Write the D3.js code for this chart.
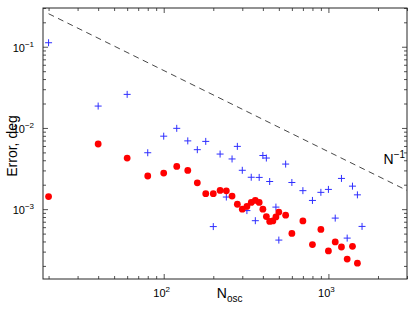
<!DOCTYPE html>
<html>
<head>
<meta charset="utf-8">
<script src="https://cdn.jsdelivr.net/npm/d3@7"></script>
<style>
  html, body { margin: 0; padding: 0; background: #fff; }
  svg { display: block; font-family: "Liberation Sans", Arial, Helvetica, sans-serif; }
</style>
</head>
<body>
<div id="chart"></div>
<script>
/* ---- data ---- */
const redN   = [20, 40, 60, 80, 100, 120, 140, 160, 180, 200, 220, 240, 260, 280, 300, 320, 340, 360,
                380, 400, 420, 440, 460, 480, 500, 550, 600, 700, 800, 900, 1000, 1100, 1200, 1300, 1400, 1500];
const redErr = [1.43e-3, 6.34e-3, 4.26e-3, 2.56e-3, 2.78e-3, 3.36e-3, 3.0e-3, 2.11e-3, 1.55e-3, 1.55e-3,
                1.70e-3, 1.68e-3, 1.45e-3, 1.15e-3, 1.0e-3, 1.08e-3, 1.21e-3, 1.28e-3, 1.21e-3, 1.0e-3,
                8.1e-4, 7.07e-4, 7.17e-4, 8.03e-4, 9.2e-4, 8.43e-4, 5.03e-4, 7.17e-4, 3.66e-4, 5.63e-4,
                3.06e-4, 3.95e-4, 3.42e-4, 2.43e-4, 3.49e-4, 2.16e-4];

const blueN   = [20, 40, 60, 80, 100, 120, 140, 160, 180, 200, 220, 240, 260, 280, 300, 320, 340, 360,
                 380, 400, 420, 440, 480, 500, 550, 600, 700, 800, 900, 1000, 1100, 1200, 1300, 1400, 1500, 1600];
const blueErr = [0.112, 0.0186, 0.0259, 4.95e-3, 7.92e-3, 9.89e-3, 6.93e-3, 5.40e-3, 6.83e-3, 6.10e-4,
                 4.77e-3, 1.41e-3, 4.15e-3, 5.93e-3, 3.01e-3, 9.6e-4, 2.47e-3, 7.21e-4, 2.46e-3, 4.58e-3,
                 4.26e-3, 2.19e-3, 1.06e-3, 4.16e-4, 3.59e-3, 2.13e-3, 1.69e-3, 1.28e-3, 1.61e-3, 1.75e-3,
                 7.76e-4, 2.39e-3, 4.40e-4, 1.92e-3, 1.50e-3, 6.13e-4];

// reference N^-1 line : err = REF_C / N
const REF_C  = 5.1;
const refN   = [20, 3000];

const xDomain = [18.5, 3000];
const yDomain = [1.38e-4, 0.3];
const xMajor  = [100, 1000];
const yMajor  = [1e-3, 1e-2, 1e-1];

/* ---- layout ---- */
const W = 415, H = 309;
const M = { top: 8, right: 8, bottom: 30, left: 43 };
const iw = W - M.left - M.right, ih = H - M.top - M.bottom;

const svg = d3.select('#chart').append('svg')
  .attr('width', W).attr('height', H);
const g = svg.append('g').attr('transform', `translate(${M.left},${M.top})`);

const x = d3.scaleLog().domain(xDomain).range([0, iw]);
const y = d3.scaleLog().domain(yDomain).range([ih, 0]);

const xMinor = x.ticks().filter(v => !xMajor.includes(v));
const yMinor = y.ticks().filter(v => !yMajor.some(m => Math.abs(m - v) / m < 1e-6));

const AX = '#262626';

/* ---- ticks (inward, on all four sides) ---- */
function ticks(axisFn, vals, size, tr) {
  const a = g.append('g').attr('transform', tr)
    .call(axisFn.tickValues(vals).tickSize(-size).tickFormat(''));
  a.select('.domain').remove();
  a.selectAll('line').attr('stroke', AX).attr('stroke-width', 0.8);
}
ticks(d3.axisBottom(x), xMinor, 3, `translate(0,${ih})`);
ticks(d3.axisBottom(x), xMajor, 5, `translate(0,${ih})`);
ticks(d3.axisTop(x),    xMinor, 3, 'translate(0,0)');
ticks(d3.axisTop(x),    xMajor, 5, 'translate(0,0)');
ticks(d3.axisLeft(y),   yMinor, 3, 'translate(0,0)');
ticks(d3.axisLeft(y),   yMajor, 5, 'translate(0,0)');
ticks(d3.axisRight(y),  yMinor, 3, `translate(${iw},0)`);
ticks(d3.axisRight(y),  yMajor, 5, `translate(${iw},0)`);

g.append('rect')
  .attr('width', iw).attr('height', ih)
  .attr('fill', 'none').attr('stroke', AX).attr('stroke-width', 1);

/* ---- tick labels 10^k ---- */
xMajor.forEach(v => {
  const t = g.append('text')
    .attr('x', x(v) - 2).attr('y', ih + 18)
    .attr('text-anchor', 'middle').attr('font-size', 11).attr('fill', '#000');
  t.append('tspan').text('10');
  t.append('tspan').attr('dy', -5).attr('font-size', 8).text(Math.round(Math.log10(v)));
});
yMajor.forEach(v => {
  const t = g.append('text')
    .attr('x', -9).attr('y', y(v) + 5)
    .attr('text-anchor', 'end').attr('font-size', 11).attr('fill', '#000');
  t.append('tspan').text('10');
  t.append('tspan').attr('dy', -5).attr('font-size', 8)
    .text('\u2212' + Math.abs(Math.round(Math.log10(v))));
});

/* ---- axis titles ---- */
const xl = g.append('text')
  .attr('x', x(210)).attr('y', ih + 19)
  .attr('text-anchor', 'start').attr('font-size', 14);
xl.append('tspan').text('N');
xl.append('tspan').attr('dy', 4).attr('font-size', 10).text('osc');

g.append('text')
  .attr('transform', `translate(${-26},${146 - M.top}) rotate(-90)`)
  .attr('text-anchor', 'middle').attr('font-size', 14)
  .text('Error, deg');

/* ---- reference line N^-1 ---- */
g.append('path')
  .datum(refN)
  .attr('d', d3.line().x(d => x(d)).y(d => y(REF_C / d)))
  .attr('fill', 'none').attr('stroke', '#333').attr('stroke-width', 0.9)
  .attr('stroke-dasharray', '6,4.5');

const nl = g.append('text')
  .attr('x', x(2160)).attr('y', y(REF_C / 2160) - 15)
  .attr('font-size', 14);
nl.append('tspan').text('N');
nl.append('tspan').attr('dy', -6).attr('font-size', 10).text('\u22121');

/* ---- blue crosses ---- */
const blue = blueN.map((n, i) => ({ n, e: blueErr[i] }));
g.append('g').selectAll('path')
  .data(blue)
  .join('path')
    .attr('transform', d => `translate(${x(d.n)},${y(d.e)})`)
    .attr('d', 'M-3.5,0H3.5M0,-3.5V3.5')
    .attr('stroke', '#2f2fff').attr('stroke-width', 1).attr('fill', 'none');

/* ---- red dots ---- */
const red = redN.map((n, i) => ({ n, e: redErr[i] }));
g.append('g').selectAll('circle')
  .data(red)
  .join('circle')
    .attr('cx', d => x(d.n))
    .attr('cy', d => y(d.e))
    .attr('r', 3.4)
    .attr('fill', '#ff0000');
</script>
</body>
</html>
